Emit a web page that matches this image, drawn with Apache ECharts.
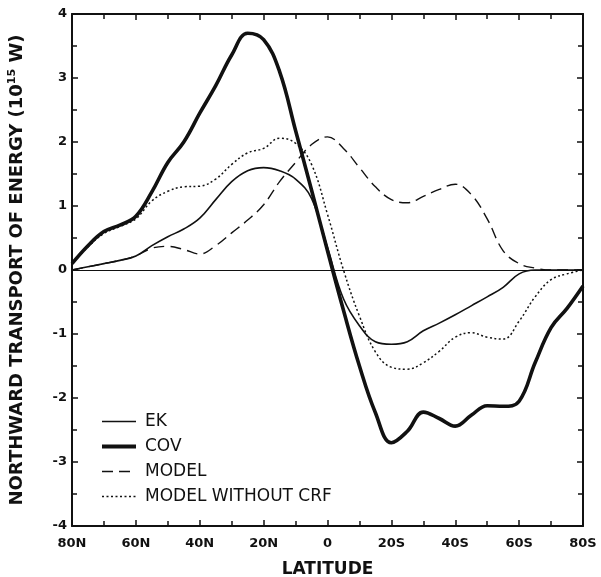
<!DOCTYPE html>
<html>
<head>
<meta charset="utf-8">
<script src="https://cdn.jsdelivr.net/npm/echarts@6/dist/echarts.min.js"></script>
<style>
  html, body { margin: 0; padding: 0; background: #fff; }
  #chart { width: 601px; height: 577px; }
</style>
</head>
<body>
<div id="chart"></div>
<script>
// latitude in degrees north (negative = south)
const lats = [80, 75, 70, 65, 60, 55, 50, 45, 40, 35, 30, 25, 20, 15, 10, 5, 0,
  -5, -10, -15, -20, -25, -30, -35, -40, -45, -50, -55, -60, -65, -70, -75, -80];
const ek = [0, 0.05, 0.1, 0.15, 0.22, 0.38, 0.52, 0.64, 0.81, 1.1, 1.38, 1.55, 1.6, 1.55, 1.42, 1.12, 0.35,
  -0.45, -0.87, -1.12, -1.16, -1.12, -0.95, -0.83, -0.7, -0.56, -0.42, -0.27, -0.06, 0, 0, 0, 0];
const cov = [0.1, 0.38, 0.6, 0.7, 0.84, 1.22, 1.68, 2.0, 2.45, 2.88, 3.36, 3.7, 3.6, 3.1, 2.18, 1.25, 0.3,
  -0.63, -1.5, -2.23, -2.7, -2.52, -2.22, -2.32, -2.44, -2.27, -2.12, -2.13, -2.05, -1.45, -0.9, -0.6, -0.25];
const model = [0, 0.05, 0.1, 0.15, 0.22, 0.34, 0.37, 0.32, 0.25, 0.38, 0.58, 0.78, 1.02, 1.38, 1.68, 1.96, 2.08,
  1.9, 1.6, 1.3, 1.1, 1.05, 1.15, 1.26, 1.34, 1.18, 0.8, 0.3, 0.1, 0.03, 0, 0, 0];
const noCrf = [0.1, 0.36, 0.57, 0.68, 0.8, 1.08, 1.23, 1.3, 1.31, 1.42, 1.65, 1.83, 1.9, 2.06, 1.98, 1.65, 0.87,
  0, -0.72, -1.28, -1.52, -1.55, -1.45, -1.27, -1.05, -0.98, -1.05, -1.08, -0.8, -0.42, -0.15, -0.06, 0];

const pair = vals => lats.map((l, i) => [l, vals[i]]);
const ink = '#111';
const font = '"DejaVu Sans", "Liberation Sans", sans-serif';

const latLabel = v => v === 0 ? '0' : (v > 0 ? v + 'N' : (-v) + 'S');

const chart = echarts.init(document.getElementById('chart'));
const frameX = {
  type: 'value', min: -80, max: 80, interval: 20, inverse: true,
  axisLine: { show: true, onZero: false, lineStyle: { color: ink, width: 2 } },
  axisTick: { show: true, inside: true, length: 6, lineStyle: { color: ink, width: 1.5 } },
  minorTick: { show: true, splitNumber: 2, length: 5, lineStyle: { color: ink, width: 1.5 } },
  splitLine: { show: false }
};
const frameY = {
  type: 'value', min: -4, max: 4, interval: 1,
  axisLine: { show: true, onZero: false, lineStyle: { color: ink, width: 2 } },
  axisTick: { show: true, inside: true, length: 6, lineStyle: { color: ink, width: 1.5 } },
  minorTick: { show: true, splitNumber: 2, length: 5, lineStyle: { color: ink, width: 1.5 } },
  splitLine: { show: false }
};

chart.setOption({
  animation: false,
  backgroundColor: '#fff',
  grid: { left: 72, right: 18, top: 14, bottom: 51, outerBoundsMode: 'none', containLabel: false },
  legend: {
    orient: 'vertical', left: 100, top: 413, padding: 0,
    itemWidth: 34, itemHeight: 17, itemGap: 8,
    itemStyle: { opacity: 0 },
    textStyle: { fontFamily: font, fontSize: 17, color: ink, padding: [0, 0, 0, 4] },
    data: [
      { name: 'EK', lineStyle: { width: 1.6 } },
      { name: 'COV', lineStyle: { width: 4 } },
      { name: 'MODEL', lineStyle: { width: 1.4 } },
      { name: 'MODEL WITHOUT CRF', lineStyle: { width: 1.5 } }
    ]
  },
  xAxis: [
    Object.assign({}, frameX, {
      position: 'bottom',
      name: 'LATITUDE', nameLocation: 'middle', nameGap: 35,
      nameTextStyle: { fontFamily: font, fontSize: 17, fontWeight: 'bold', color: ink },
      axisLabel: { formatter: latLabel, margin: 11, fontFamily: font, fontSize: 13, fontWeight: 'bold', color: ink }
    }),
    Object.assign({}, frameX, { position: 'top', axisLabel: { show: false } })
  ],
  yAxis: [
    Object.assign({}, frameY, {
      position: 'left',
      name: '{a|NORTHWARD TRANSPORT OF ENERGY (10}{s|15}{a| W)}',
      nameLocation: 'middle', nameGap: 45,
      nameTextStyle: {
        rich: {
          a: { fontFamily: font, fontSize: 18, fontWeight: 'bold', color: ink },
          s: { fontFamily: font, fontSize: 11, fontWeight: 'bold', color: ink, verticalAlign: 'bottom', padding: [0, 0, 9, 0] }
        }
      },
      axisLabel: { margin: 5, fontFamily: font, fontSize: 13, fontWeight: 'bold', color: ink }
    }),
    Object.assign({}, frameY, { position: 'right', axisLabel: { show: false } })
  ],
  series: [
    {
      name: 'EK', type: 'line', data: pair(ek), smooth: 0.4, symbol: 'none',
      lineStyle: { color: ink, width: 1.6 }, itemStyle: { color: ink },
      markLine: {
        silent: true, symbol: 'none', label: { show: false },
        lineStyle: { color: ink, width: 1.2, type: 'solid' },
        data: [{ yAxis: 0 }]
      }
    },
    {
      name: 'COV', type: 'line', data: pair(cov), smooth: 0.4, symbol: 'none',
      lineStyle: { color: ink, width: 3.6 }, itemStyle: { color: ink }
    },
    {
      name: 'MODEL', type: 'line', data: pair(model), smooth: 0.4, symbol: 'none',
      lineStyle: { color: ink, width: 1.4, type: [11, 6] }, itemStyle: { color: ink }
    },
    {
      name: 'MODEL WITHOUT CRF', type: 'line', data: pair(noCrf), smooth: 0.4, symbol: 'none',
      lineStyle: { color: ink, width: 1.5, type: [2, 2.5] }, itemStyle: { color: ink }
    }
  ]
});
</script>
</body>
</html>
